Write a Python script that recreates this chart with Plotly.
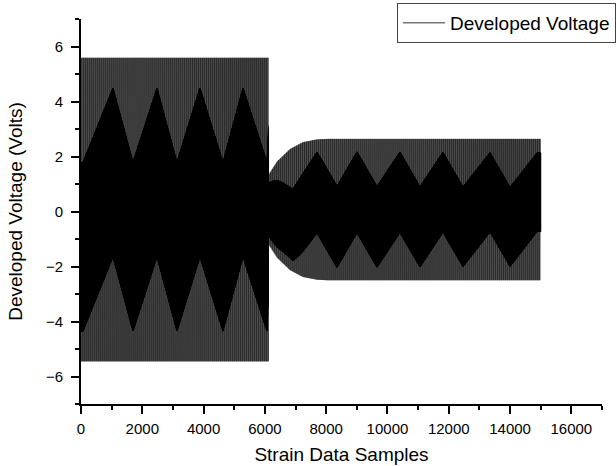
import numpy as np
import plotly.graph_objects as go

# ---- data ----
# outer peak amplitude of the developed voltage (V) at sample breakpoints
env_samples = [0, 6120, 6121, 6170, 6400, 6820, 7240, 7700, 8030, 15000]
env_volts = [5.52, 5.52, 1.25, 1.35, 1.75, 2.2, 2.45, 2.55, 2.57, 2.57]
dc_offset = 0.07                 # small positive offset (V)

# dense (dark) core of the trace: it drifts up and down between these samples
core_up_samples = [1044, 2480, 3883, 5286, 7700, 9006, 10409, 11812, 13346, 14880]
core_down_samples = [65, 1697, 3132, 4633, 6069, 6918, 8353, 9658, 11062, 12465, 14000]
core_level_samples = [6121]      # core centred at the start of the second block
core_swing_fraction = 0.245      # drift of core centre, fraction of amplitude
# half-height of the dense core, fraction of amplitude
core_hw_samples = [0, 6120, 6121, 6820, 15000]
core_hw_fraction = [0.557, 0.557, 0.77, 0.58, 0.557]

# full-amplitude peaks: positions inside each repeating group of samples
peak_cycle = 65
peak_up_phases = [0, 13, 38]
peak_down_phases = [6, 26, 51]

n_samples = 15001

x_ticks = [0, 2000, 4000, 6000, 8000, 10000, 12000, 14000, 16000]
x_tick_text = ["0", "2000", "4000", "6000", "8000", "10000", "12000", "14000", "16000"]
y_ticks = [-6, -4, -2, 0, 2, 4, 6]

# ---- build the sampled signal from the values above ----
n = np.arange(n_samples)
amp = np.interp(n, env_samples, env_volts)

turn_pts = sorted([(s, 1.0) for s in core_up_samples]
                  + [(s, -1.0) for s in core_down_samples]
                  + [(s, 0.0) for s in core_level_samples])
drift = np.interp(n, [p[0] for p in turn_pts], [p[1] for p in turn_pts])
centre = dc_offset + core_swing_fraction * amp * drift
half = np.interp(n, core_hw_samples, core_hw_fraction) * amp

zig = np.where(n % 2 == 0, 1.0, -1.0)
voltage = centre + half * zig
k = n % peak_cycle
voltage = np.where(np.isin(k, peak_up_phases), dc_offset + amp, voltage)
voltage = np.where(np.isin(k, peak_down_phases), dc_offset - amp, voltage)

font_family = "Liberation Sans, Arial, sans-serif"

fig = go.Figure()
fig.add_trace(go.Scatter(
    x=n, y=voltage, mode="lines", name="Developed Voltage", showlegend=False,
    line=dict(color="black", width=0.42, simplify=False),
))
# legend entry drawn with a visible line weight
fig.add_trace(go.Scatter(
    x=[None], y=[None], mode="lines", name="Developed Voltage",
    line=dict(color="#333333", width=1),
))

axis_common = dict(
    showline=True, linecolor="black", linewidth=2, mirror=False,
    ticks="outside", ticklen=8, tickwidth=1.5, tickcolor="black",
    showgrid=False, zeroline=False,
    tickfont=dict(family=font_family, size=15, color="black"),
)

fig.update_layout(
    width=616, height=466,
    margin=dict(l=81, r=14, t=19, b=62, autoexpand=False),
    paper_bgcolor="white", plot_bgcolor="white",
    font=dict(family=font_family, color="black"),
    xaxis=dict(
        range=[0, 17000], tickvals=x_ticks, ticktext=x_tick_text,
        minor=dict(dtick=1000, ticklen=4, tickwidth=1.5, tickcolor="black", ticks="outside"),
        title=dict(text="Strain Data Samples", font=dict(size=19), standoff=12),
        ticklabelstandoff=2,
        **axis_common,
    ),
    yaxis=dict(
        range=[-7, 7], tickvals=y_ticks,
        minor=dict(dtick=1, ticklen=4, tickwidth=1.5, tickcolor="black", ticks="outside"),
        title=dict(text="Developed Voltage (Volts)", font=dict(size=19), standoff=18),
        ticklabelstandoff=5,
        **axis_common,
    ),
    showlegend=True,
    legend=dict(
        x=0.6065, xanchor="left", y=1.0416, yanchor="top",
        bordercolor="#444", borderwidth=1, bgcolor="white",
        font=dict(family=font_family, size=19, color="black"),
        itemwidth=42,
    ),
)

fig.write_html("out.html")
